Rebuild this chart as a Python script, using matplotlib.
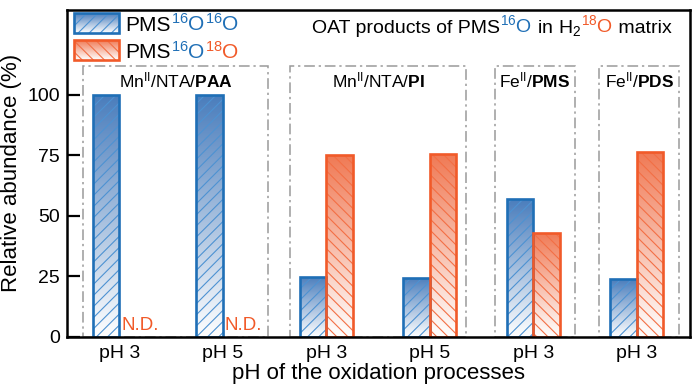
import numpy as np
import matplotlib
matplotlib.use('Agg')
import matplotlib.pyplot as plt
from matplotlib.patches import Rectangle
from matplotlib.colors import LinearSegmentedColormap

plt.rcParams['font.family'] = ['Liberation Sans', 'DejaVu Sans']
plt.rcParams['mathtext.fontset'] = 'custom'
plt.rcParams['mathtext.rm'] = 'Liberation Sans'
plt.rcParams['mathtext.bf'] = 'Liberation Sans:bold'
plt.rcParams['mathtext.it'] = 'Liberation Sans:italic'
plt.rcParams['mathtext.default'] = 'regular'
plt.rcParams['hatch.linewidth'] = 0.8

BLUE = '#1f6fb6'
ORANGE = '#f15a29'
BLUE_TOP = '#4a7dbc'
ORANGE_TOP = '#f07a55'
BLUE_HATCH = '#4d92d2'
ORANGE_HATCH = '#f36f45'
BOX_GREY = '#9a9a9a'

# data
tick_labels = ['pH 3', 'pH 5', 'pH 3', 'pH 5', 'pH 3', 'pH 3']
o16_16 = [100, 100, 24.8, 24.4, 56.9, 23.7]
o16_18 = [None, None, 75.0, 75.6, 43.0, 76.3]   # None = not detected
group_names = [r'Mn$^{II}$/NTA/$\mathbf{PAA}$', r'Mn$^{II}$/NTA/$\mathbf{PI}$',
               r'Fe$^{II}$/$\mathbf{PMS}$', r'Fe$^{II}$/$\mathbf{PDS}$']
group_spans = [(-0.35, 1.44), (1.65, 3.35), (3.63, 4.40), (4.635, 5.41)]


def gradient_fill(ax, patch, top_color, transform=None):
    cmap = LinearSegmentedColormap.from_list('g', ['#ffffff', top_color])
    grad = np.linspace(0, 1, 256).reshape(-1, 1)
    x0, y0 = patch.get_x(), patch.get_y()
    x1, y1 = x0 + patch.get_width(), y0 + patch.get_height()
    kw = {}
    if transform is not None:
        kw['transform'] = transform
    im = ax.imshow(grad, cmap=cmap, origin='lower', aspect='auto',
                   extent=(x0, x1, y0, y1), interpolation='bilinear',
                   zorder=patch.get_zorder() - 0.5, **kw)
    im.set_clip_path(patch)


def rich_text(ax, x, y, pieces, ha='left', **kw):
    # multi coloured text, pieces placed one after the other on a common baseline
    r = ax.figure.canvas.get_renderer()
    ax_w = ax.get_window_extent(r).width
    texts = []
    cur = x
    for s, c in pieces:
        t = ax.text(cur, y, s, color=c, transform=ax.transAxes,
                    ha='left', va='baseline', **kw)
        cur += t.get_window_extent(r).width / ax_w
        texts.append(t)
    if ha == 'right':
        shift = cur - x
        for t in texts:
            px, py = t.get_position()
            t.set_position((px - shift, py))
    return texts


def hatched_bars(ax, xs, heights, w, edge, hatch_col, top, hatch):
    hb = ax.bar(xs, heights, w, facecolor='none', edgecolor=hatch_col,
                hatch=hatch, linewidth=0, zorder=3)
    ob = ax.bar(xs, heights, w, facecolor='none', edgecolor=edge,
                linewidth=1.9, zorder=3.2)
    for p in hb:
        if p.get_height() > 0:
            gradient_fill(ax, p, top)
    return hb, ob


fig = plt.figure(figsize=(7, 3.89), dpi=100)
ax = fig.add_axes([0.0953, 0.1344, 0.8904, 0.8398])

x = np.arange(len(tick_labels))
w = 0.257

hatched_bars(ax, x - w / 2, o16_16, w, BLUE, BLUE_HATCH, BLUE_TOP, '///')

o18_vals = [v if v is not None else 0 for v in o16_18]
hb, ob = hatched_bars(ax, x + w / 2, o18_vals, w, ORANGE, ORANGE_HATCH,
                      ORANGE_TOP, '\\\\\\')
for p1, p2, v in zip(hb, ob, o16_18):
    if v is None:
        p1.set_visible(False)
        p2.set_visible(False)

for i, v in enumerate(o16_18):
    if v is None:
        ax.text(i + 0.02, 1.2, 'N.D.', color=ORANGE, fontsize=13.5,
                ha='left', va='bottom', zorder=4)

# dash-dot group boxes
for (a, b), name in zip(group_spans, group_names):
    ax.add_patch(Rectangle((a, 0), b - a, 112, fill=False, edgecolor=BOX_GREY,
                           linewidth=1.1, linestyle=(0, (7, 2.5, 1.5, 2.5)),
                           zorder=1))
    ax.text((a + b) / 2, 106, name, ha='center', va='center', fontsize=12.5)

ax.set_xticks(x)
ax.set_xticklabels(tick_labels)
ax.set_yticks([0, 25, 50, 75, 100])
ax.tick_params(axis='y', direction='in', length=9, width=1.6, labelsize=14, pad=5)
ax.tick_params(axis='x', direction='in', length=4, width=1.6, labelsize=14, pad=6)
for s in ax.spines.values():
    s.set_linewidth(1.8)
    s.set_zorder(5)

ax.set_ylabel('Relative abundance (%)', fontsize=16, labelpad=4)
ax.set_xlabel('pH of the oxidation processes', fontsize=16, labelpad=1)

# legend built by hand (multi coloured labels)
leg_items = [
    (BLUE, BLUE_HATCH, BLUE_TOP, '///',
     [('PMS', 'black'), ('$^{16}$O', BLUE), ('$^{16}$O', BLUE)]),
    (ORANGE, ORANGE_HATCH, ORANGE_TOP, '\\\\\\',
     [('PMS', 'black'), ('$^{16}$O', BLUE), ('$^{18}$O', ORANGE)]),
]
for k, (ec, hc, top, hatch, pieces) in enumerate(leg_items):
    y0 = 0.929 - k * 0.083
    rect = Rectangle((0.012, y0), 0.072, 0.061, transform=ax.transAxes,
                     facecolor='none', edgecolor=hc, hatch=hatch,
                     linewidth=0, zorder=6, clip_on=False)
    ax.add_patch(rect)
    gradient_fill(ax, rect, top, transform=ax.transAxes)
    ax.add_patch(Rectangle((0.012, y0), 0.072, 0.061, transform=ax.transAxes,
                           facecolor='none', edgecolor=ec, linewidth=1.9,
                           zorder=6.2, clip_on=False))
    rich_text(ax, 0.094, y0 + 0.006, pieces, fontsize=15)

rich_text(ax, 0.9705, 0.931,
          [('OAT products of PMS', 'black'), ('$^{16}$O', BLUE),
           (' in H$_2$', 'black'), ('$^{18}$O', ORANGE), (' matrix', 'black')],
          ha='right', fontsize=14)

ax.set_xlim(-0.508, 5.514)
ax.set_ylim(0, 135)

fig.savefig('out.png', dpi=100)
